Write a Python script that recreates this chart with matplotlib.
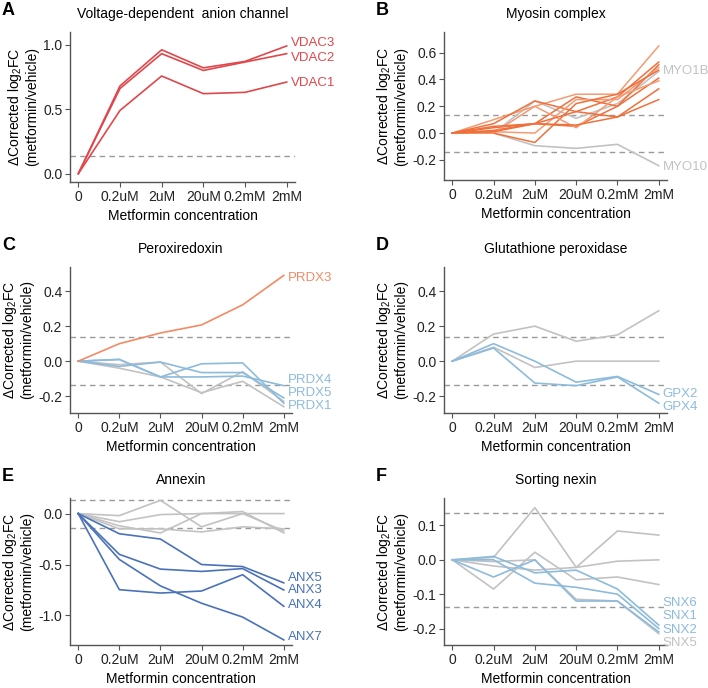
import matplotlib
matplotlib.use("Agg")
import matplotlib.pyplot as plt
import numpy as np

plt.rcParams['font.family'] = ['Liberation Sans', 'DejaVu Sans']
plt.rcParams['mathtext.fontset'] = 'custom'
plt.rcParams['mathtext.rm'] = 'Liberation Sans'

doses = ['0', '0.2uM', '2uM', '20uM', '0.2mM', '2mM']
thresh = np.log2(1.1)

RED = '#e0474c'
ORANGE = '#f0703c'
ORANGE_L = '#f59a72'
SALMON = '#f28a66'
BLUE_L = '#8dbbdc'
BLUE_D = '#4a72b8'
GREY = '#c2c2c2'

# A: voltage-dependent anion channel
vdac3 = [0, 0.68, 0.96, 0.82, 0.87, 0.99]
vdac2 = [0, 0.66, 0.93, 0.80, 0.865, 0.93]
vdac1 = [0, 0.49, 0.757, 0.62, 0.63, 0.71]

# B: myosin complex (orange = significant, grey = labelled)
myo_orange = [
    [0, 0.10, 0.20, 0.29, 0.29, 0.65],
    [0, 0.07, 0.24, 0.16, 0.27, 0.53],
    [0, 0.04, 0.07, 0.27, 0.20, 0.51],
    [0, 0.01, 0.00, 0.25, 0.25, 0.49],
    [0, 0.00, -0.07, 0.22, 0.29, 0.47],
    [0, 0.02, 0.07, 0.05, 0.20, 0.41],
    [0, 0.00, 0.20, 0.04, 0.27, 0.39],
    [0, 0.05, 0.07, 0.06, 0.12, 0.33],
    [0, 0.01, 0.07, 0.16, 0.12, 0.25],
]
myo1b = [0, 0.0, 0.24, 0.11, 0.22, 0.46]
myo10 = [0, 0.0, -0.094, -0.114, -0.084, -0.243]

# C: peroxiredoxin
prdx3 = [0, 0.10, 0.161, 0.207, 0.322, 0.49]
prdx4 = [0, 0.01, -0.09, -0.09, -0.085, -0.14]
prdx5 = [0, -0.03, -0.005, -0.065, -0.065, -0.21]
prdx1 = [0, 0.01, -0.09, -0.015, -0.01, -0.24]
prdx_grey = [
    [0, -0.02, -0.005, -0.185, -0.06, -0.23],
    [0, -0.04, -0.09, -0.18, -0.115, -0.26],
]

# D: glutathione peroxidase
gpx2 = [0, 0.10, 0.0, -0.12, -0.087, -0.19]
gpx4 = [0, 0.075, -0.125, -0.14, -0.09, -0.24]
gpx_grey = [
    [0, 0.155, 0.20, 0.114, 0.15, 0.288],
    [0, 0.08, -0.036, 0.0, 0.0, 0.0],
]

# E: annexin
anx5 = [0, -0.198, -0.25, -0.50, -0.52, -0.68]
anx3 = [0, -0.40, -0.545, -0.568, -0.54, -0.75]
anx4 = [0, -0.747, -0.78, -0.76, -0.60, -0.91]
anx7 = [0, -0.45, -0.71, -0.88, -1.016, -1.24]
anx_grey = [
    [0, -0.02, 0.13, -0.13, 0.0, -0.17],
    [0, -0.08, -0.01, 0.0, 0.0, 0.0],
    [0, -0.12, -0.19, 0.0, 0.02, -0.19],
    [0, -0.15, -0.15, -0.18, -0.13, -0.15],
]

# F: sorting nexin
snx6 = [0, 0.01, -0.038, -0.03, -0.085, -0.19]
snx1 = [0, 0.0, -0.068, -0.08, -0.10, -0.20]
snx2 = [0, -0.05, 0.0, -0.12, -0.12, -0.21]
snx5 = [0, -0.005, 0.0, -0.115, -0.12, -0.215]
snx_grey = [
    [0, 0.007, 0.152, -0.022, 0.084, 0.072],
    [0, -0.085, 0.022, -0.058, -0.05, -0.072],
    [0, -0.018, -0.03, -0.022, -0.004, 0.0],
]

W, H = 708, 688
fig = plt.figure(figsize=(W / 100, H / 100), dpi=100)


def rect(l, t, r, b):
    return [l / W, 1 - b / H, (r - l) / W, (b - t) / H]


def setup(ax, title, letter, ylim, yticks):
    x = np.arange(len(doses))
    ax.set_xlim(-0.2, 5.2)
    ax.set_ylim(*ylim)
    ax.set_xticks(x)
    ax.set_xticklabels(doses, fontsize=10, color='#222222')
    ax.set_yticks(yticks)
    ax.set_yticklabels(['%.1f' % v for v in yticks], fontsize=10, color='#222222')
    for s in ['top', 'right']:
        ax.spines[s].set_visible(False)
    for s in ['left', 'bottom']:
        ax.spines[s].set_color('#555555')
        ax.spines[s].set_linewidth(1.0)
    ax.tick_params(length=3.5, color='#555555', pad=2)
    ax.axhline(thresh, color='#9a9a9a', ls=(0, (4, 3)), lw=1.0, zorder=1)
    ax.axhline(-thresh, color='#9a9a9a', ls=(0, (4, 3)), lw=1.0, zorder=1)
    ax.set_title(title, fontsize=10, pad=10)
    ax.set_xlabel('Metformin concentration', fontsize=10, labelpad=4)
    ax.set_ylabel('ΔCorrected log$_2$FC\n(metformin/vehicle)', fontsize=10,
                  labelpad=3, linespacing=1.1)
    bb = ax.get_position()
    fig.text(bb.x0 - 68 / W, bb.y1 + 30 / H, letter, fontsize=13,
             fontweight='bold', va='top', ha='left')


def line(ax, y, color, lw=1.2, z=2):
    ax.plot(np.arange(len(y)), y, color=color, lw=lw, zorder=z)


def label(ax, txt, y, color):
    ax.text(5.1, y, txt, color=color, fontsize=9.5, va='center', ha='left',
            clip_on=False)


# A
ax = fig.add_axes(rect(70, 32, 295, 182))
setup(ax, 'Voltage-dependent  anion channel', 'A', (-0.065, 1.098), [0, 0.5, 1.0])
for y in [vdac3, vdac2, vdac1]:
    line(ax, y, RED)
label(ax, 'VDAC3', 1.01, RED)
label(ax, 'VDAC2', 0.90, RED)
label(ax, 'VDAC1', 0.70, RED)

# B
ax = fig.add_axes(rect(444, 32, 667, 180))
setup(ax, 'Myosin complex', 'B', (-0.35, 0.754), [-0.2, 0.0, 0.2, 0.4, 0.6])
line(ax, myo10, GREY)
line(ax, myo1b, GREY)
for i, y in enumerate(myo_orange):
    line(ax, y, ORANGE if i % 3 else ORANGE_L, lw=1.1, z=3)
label(ax, 'MYO1B', 0.46, GREY)
label(ax, 'MYO10', -0.25, GREY)

# C
ax = fig.add_axes(rect(70, 267, 292, 413))
setup(ax, 'Peroxiredoxin', 'C', (-0.296, 0.538), [-0.2, 0.0, 0.2, 0.4])
for y in prdx_grey:
    line(ax, y, GREY)
for y in [prdx4, prdx5, prdx1]:
    line(ax, y, BLUE_L)
line(ax, prdx3, SALMON)
label(ax, 'PRDX3', 0.476, SALMON)
label(ax, 'PRDX4', -0.106, BLUE_L)
label(ax, 'PRDX5', -0.18, BLUE_L)
label(ax, 'PRDX1', -0.254, BLUE_L)

# D
ax = fig.add_axes(rect(444, 267, 667, 413))
setup(ax, 'Glutathione peroxidase', 'D', (-0.296, 0.538), [-0.2, 0.0, 0.2, 0.4])
for y in gpx_grey:
    line(ax, y, GREY)
for y in [gpx2, gpx4]:
    line(ax, y, BLUE_L)
label(ax, 'GPX2', -0.188, BLUE_L)
label(ax, 'GPX4', -0.264, BLUE_L)

# E
ax = fig.add_axes(rect(70, 498, 292, 645))
setup(ax, 'Annexin', 'E', (-1.29, 0.153), [-1.0, -0.5, 0.0])
for y in anx_grey:
    line(ax, y, GREY)
for y in [anx5, anx3, anx4, anx7]:
    line(ax, y, BLUE_D)
label(ax, 'ANX5', -0.63, BLUE_D)
label(ax, 'ANX3', -0.75, BLUE_D)
label(ax, 'ANX4', -0.90, BLUE_D)
label(ax, 'ANX7', -1.21, BLUE_D)

# F
ax = fig.add_axes(rect(444, 498, 667, 645))
setup(ax, 'Sorting nexin', 'F', (-0.248, 0.18), [-0.2, -0.1, 0.0, 0.1])
for y in snx_grey:
    line(ax, y, GREY)
line(ax, snx5, GREY)
for y in [snx6, snx1, snx2]:
    line(ax, y, BLUE_L)
label(ax, 'SNX6', -0.125, BLUE_L)
label(ax, 'SNX1', -0.163, BLUE_L)
label(ax, 'SNX2', -0.203, BLUE_L)
label(ax, 'SNX5', -0.242, GREY)

fig.savefig('out.png', dpi=100)
